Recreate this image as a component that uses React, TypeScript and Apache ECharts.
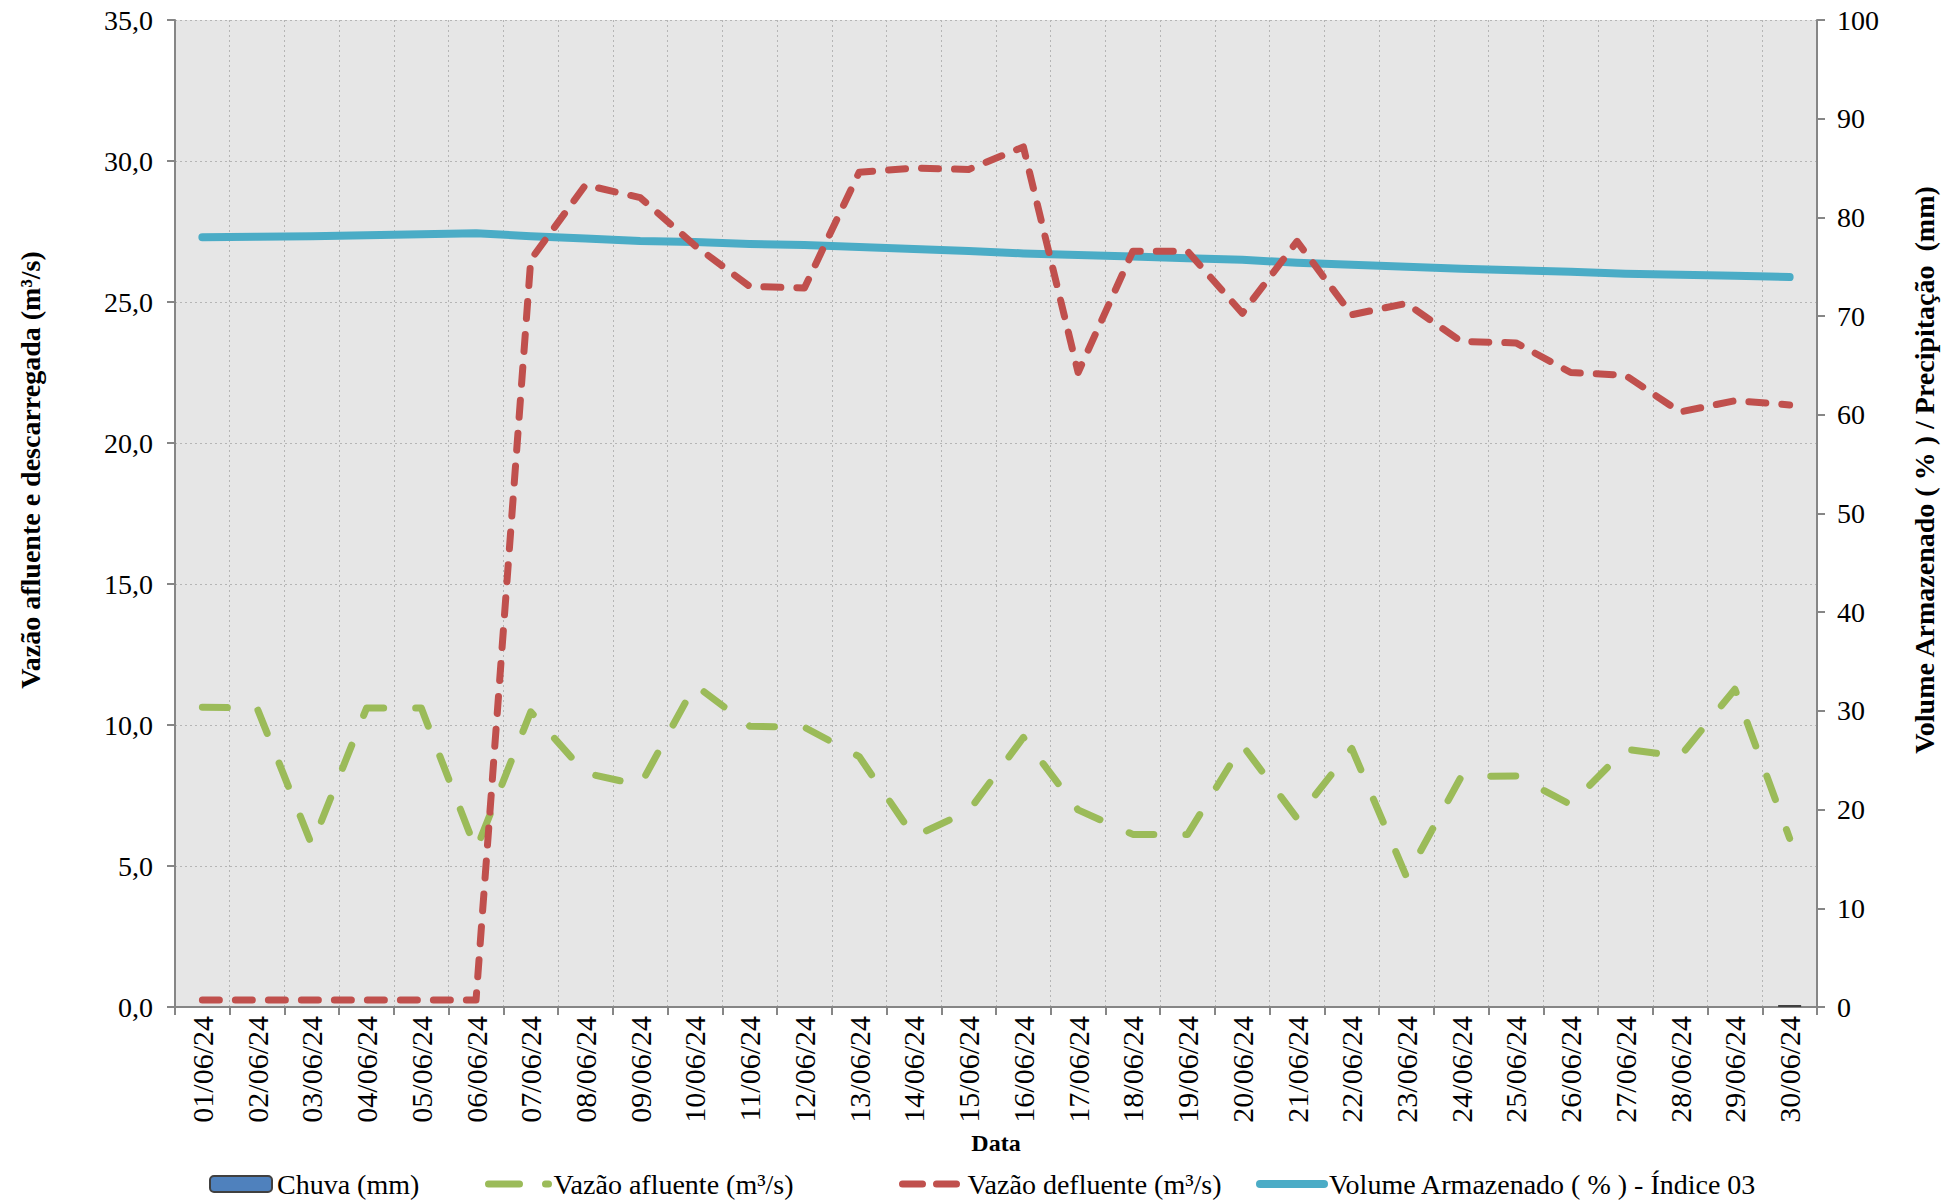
import React, { useEffect, useRef } from "react";
import * as echarts from "echarts";

const categories = [
  "01/06/24", "02/06/24", "03/06/24", "04/06/24", "05/06/24", "06/06/24", "07/06/24", "08/06/24", "09/06/24", "10/06/24",
  "11/06/24", "12/06/24", "13/06/24", "14/06/24", "15/06/24", "16/06/24", "17/06/24", "18/06/24", "19/06/24", "20/06/24",
  "21/06/24", "22/06/24", "23/06/24", "24/06/24", "25/06/24", "26/06/24", "27/06/24", "28/06/24", "29/06/24", "30/06/24",
];

const chuva = [0, 0, 0, 0, 0, 0, 0, 0, 0, 0, 0, 0, 0, 0, 0, 0, 0, 0, 0, 0, 0, 0, 0, 0, 0, 0, 0, 0, 0, 0.2];

const afluente = [
  10.63, 10.6, 5.74, 10.6, 10.6, 5.57, 10.47, 8.29, 7.87, 11.42,
  9.96, 9.92, 8.88, 6.04, 6.95, 9.56, 6.99, 6.12, 6.12, 9.29,
  6.69, 9.17, 4.62, 8.17, 8.19, 7.18, 9.14, 8.89, 11.27, 5.98,
];

const defluente = [
  0.25, 0.25, 0.25, 0.25, 0.25, 0.25, 26.5, 29.15, 28.7, 27.0,
  25.55, 25.5, 29.6, 29.75, 29.7, 30.5, 22.5, 26.8, 26.8, 24.6,
  27.15, 24.55, 24.95, 23.6, 23.55, 22.5, 22.4, 21.1, 21.5, 21.35,
];

const volume = [
  78.0, 78.05, 78.1, 78.2, 78.3, 78.4, 78.1, 77.85, 77.6, 77.5,
  77.3, 77.2, 77.0, 76.8, 76.6, 76.35, 76.2, 76.05, 75.85, 75.7,
  75.4, 75.2, 75.0, 74.8, 74.65, 74.5, 74.3, 74.2, 74.1, 73.95,
];

const leftTicks = { min: 0, max: 35, interval: 5 };
const rightTicks = { min: 0, max: 100, interval: 10 };

const names = {
  chuva: "Chuva (mm)",
  afl: "Vazão afluente (m³/s)",
  def: "Vazão defluente (m³/s)",
  vol: "Volume Armazenado ( % ) - Índice 03",
};

const leftAxisTitle = "Vazão afluente e descarregada (m³/s)";
const rightAxisTitle = "Volume Armazenado ( % ) / Precipitação  (mm)";
const xAxisTitle = "Data";

const FONT = "Liberation Serif, Times New Roman, serif";

export default function App() {
  const ref = useRef<HTMLDivElement>(null);

  useEffect(() => {
    if (!ref.current) return;
    const chart = echarts.init(ref.current, null, { renderer: "svg" });
    const axisGrey = "#868686";
    const gridGrey = "#b5b5b5";
    const legendText = { fontFamily: FONT, fontSize: 28, color: "#000" };
    const hiddenSymbol = { color: "rgba(0,0,0,0)", borderWidth: 0, opacity: 0 };
    const titleStyle = { fontFamily: FONT, fontSize: 28, fontWeight: "bold", fill: "#000", align: "center", verticalAlign: "middle" };

    chart.setOption({
      animation: false,
      textStyle: { fontFamily: FONT },
      grid: {
        left: 175,
        right: 131,
        top: 20,
        bottom: 197,
        show: true,
        backgroundColor: "#E6E6E6",
        borderWidth: 0,
      },
      graphic: [
        { type: "text", x: 30, y: 470, rotation: Math.PI / 2, style: { ...titleStyle, text: leftAxisTitle } },
        { type: "text", x: 1924, y: 470, rotation: Math.PI / 2, style: { ...titleStyle, text: rightAxisTitle } },
      ],
      legend: [
        { data: [names.chuva], left: 204, top: 1165, itemWidth: 62, itemHeight: 16, textStyle: legendText },
        {
          data: [{ name: names.afl, itemStyle: hiddenSymbol }],
          left: 480, top: 1165, itemWidth: 60, itemHeight: 16, textStyle: legendText,
          lineStyle: { width: 7, type: [31, 26], cap: "round", color: "#9BBB59" },
        },
        {
          data: [{ name: names.def, itemStyle: hiddenSymbol }],
          left: 894, top: 1165, itemWidth: 60, itemHeight: 16, textStyle: legendText,
          lineStyle: { width: 7, type: [20, 14], cap: "round", color: "#C0504D" },
        },
        {
          data: [{ name: names.vol, itemStyle: hiddenSymbol }],
          left: 1251, top: 1165, itemWidth: 64, itemHeight: 16, textStyle: legendText,
          lineStyle: { width: 8, type: "solid", cap: "round", color: "#4BACC6" },
        },
      ],
      xAxis: {
        type: "category",
        data: categories,
        boundaryGap: true,
        name: xAxisTitle,
        nameLocation: "middle",
        nameGap: 118,
        nameTextStyle: { fontFamily: FONT, fontSize: 24, fontWeight: "bold", color: "#000" },
        axisLine: { show: true, lineStyle: { color: axisGrey, width: 2 } },
        axisTick: { show: true, interval: 0, length: 8, lineStyle: { color: axisGrey, width: 2 } },
        axisLabel: { interval: 0, rotate: 90, margin: 9, fontFamily: FONT, fontSize: 30, color: "#000" },
        splitLine: { show: true, interval: 0, lineStyle: { color: gridGrey, type: [2, 3], width: 1 } },
      },
      yAxis: [
        {
          type: "value",
          min: leftTicks.min,
          max: leftTicks.max,
          interval: leftTicks.interval,
          axisLine: { show: true, lineStyle: { color: axisGrey, width: 2 } },
          axisTick: { show: true, length: 8, lineStyle: { color: axisGrey, width: 2 } },
          axisLabel: {
            margin: 22,
            fontFamily: FONT,
            fontSize: 28,
            color: "#000",
            formatter: (v: number) => v.toFixed(1).replace(".", ","),
          },
          splitLine: { show: true, lineStyle: { color: gridGrey, type: [2, 3], width: 1 } },
        },
        {
          type: "value",
          min: rightTicks.min,
          max: rightTicks.max,
          interval: rightTicks.interval,
          position: "right",
          axisLine: { show: true, lineStyle: { color: axisGrey, width: 2 } },
          axisTick: { show: true, length: 8, lineStyle: { color: axisGrey, width: 2 } },
          axisLabel: { margin: 20, fontFamily: FONT, fontSize: 28, color: "#000" },
          splitLine: { show: false },
        },
      ],
      series: [
        {
          name: names.chuva,
          type: "bar",
          yAxisIndex: 1,
          data: chuva.map((v) => (v > 0 ? v : { value: v, itemStyle: { borderWidth: 0 } })),
          barWidth: 23,
          itemStyle: { color: "#4F81BD", borderColor: "#404040", borderWidth: 1.5 },
        },
        {
          name: names.afl,
          type: "line",
          yAxisIndex: 0,
          data: afluente,
          symbol: "none",
          lineStyle: { color: "#9BBB59", width: 7, type: [25, 32], cap: "round", join: "round" },
          itemStyle: { color: "#9BBB59" },
        },
        {
          name: names.vol,
          type: "line",
          yAxisIndex: 1,
          data: volume,
          symbol: "none",
          lineStyle: { color: "#4BACC6", width: 8, cap: "round", join: "round" },
          itemStyle: { color: "#4BACC6" },
        },
        {
          name: names.def,
          type: "line",
          yAxisIndex: 0,
          data: defluente,
          symbol: "none",
          lineStyle: { color: "#C0504D", width: 7, type: [17, 16], cap: "round", join: "round" },
          itemStyle: { color: "#C0504D" },
        },
      ],
    });

    return () => chart.dispose();
  }, []);

  return (
    <div
      ref={ref}
      style={{ position: "fixed", left: 0, top: 0, width: 1948, height: 1204, background: "#fff" }}
    />
  );
}
